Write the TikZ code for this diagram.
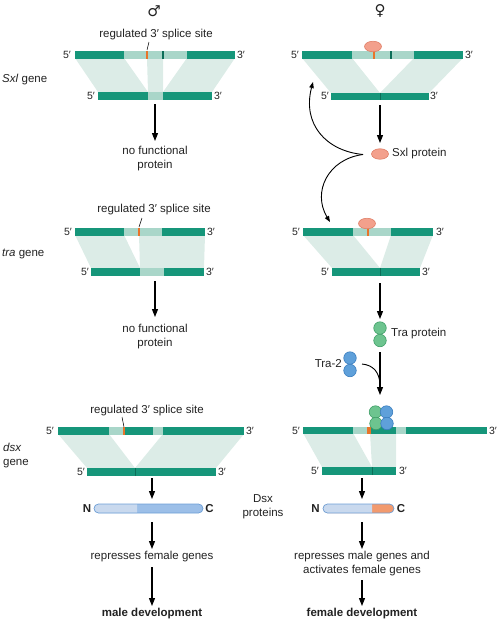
\documentclass[tikz,border=0pt]{standalone}
\usepackage{fontspec}
\setmainfont{Liberation Sans}
\newfontfamily\symfont{DejaVu Sans}
\usetikzlibrary{arrows.meta,shapes.geometric}
\definecolor{exonc}{HTML}{16967A}
\definecolor{exond}{HTML}{0C6E58}
\definecolor{lightc}{HTML}{A9D6C9}
\definecolor{shadec}{HTML}{DCECE7}
\definecolor{orangec}{HTML}{E8742A}
\definecolor{sxlf}{HTML}{F3A08C}
\definecolor{sxld}{HTML}{E07E66}
\definecolor{traf}{HTML}{6DC48F}
\definecolor{trad}{HTML}{3E9E66}
\definecolor{trbf}{HTML}{5FA0DA}
\definecolor{trbd}{HTML}{3A7DBE}
\definecolor{protl}{HTML}{C9D9EE}
\definecolor{protd}{HTML}{9CBFE8}
\definecolor{proto}{HTML}{6E9FD6}
\definecolor{proor}{HTML}{F29A6E}
\definecolor{txtc}{HTML}{222222}
\begin{document}
\begin{tikzpicture}[x=1pt,y=-1pt,font=\fontsize{11.5}{14}\selectfont,
  exon/.style={fill=exonc},
  lseg/.style={fill=lightc},
  shd/.style={fill=shadec},
  splice/.style={draw=orangec,line width=1.6pt},
  divd/.style={draw=exond,line width=1.2pt},
  divt/.style={draw=exond,line width=0.5pt},
  arr/.style={line width=1.1pt,-{Triangle[length=8pt,width=6pt]}},
  carr/.style={line width=0.9pt,-{Triangle[length=6pt,width=4.5pt]}},
  lead/.style={line width=0.5pt},
  pr/.style={inner sep=0pt,text=txtc,font=\fontsize{10.5}{12}\selectfont},
  txt/.style={inner sep=0pt,align=center,text=txtc},
  sxlprot/.style={ellipse,draw=sxld,fill=sxlf,line width=0.6pt,minimum width=17pt,minimum height=10.5pt,inner sep=0pt},
  trag/.style={circle,draw=trad,fill=traf,line width=0.6pt,minimum size=12.5pt,inner sep=0pt},
  trab/.style={circle,draw=trbd,fill=trbf,line width=0.6pt,minimum size=12.5pt,inner sep=0pt},
  protout/.style={draw=proto,line width=0.7pt,rounded corners=4.5pt}]
\useasboundingbox (0,0) rectangle (500,622);

% ---------- headers ----------
\node[txt,font=\symfont\fontsize{15}{16}\selectfont] (male) at (154,11) {♂};
\node[txt,font=\symfont\fontsize{15}{16}\selectfont] (female) at (380,11) {♀};

\node[txt,anchor=west] (gsxl) at (2,80) {\textit{Sxl} gene};
\node[txt,anchor=west] (gtra) at (2,254) {\textit{tra} gene};
\node[txt,anchor=west,align=left] (gdsx) at (3,456) {\textit{dsx}\\gene};

% ================= MALE Sxl =================
\fill[shd] (75,58) -- (124,58) -- (148,92) -- (98,92) -- cycle;
\fill[shd] (147,58) -- (163,58) -- (163,92) -- (148,92) -- cycle;
\fill[shd] (187,58) -- (235,58) -- (212,92) -- (163,92) -- cycle;
\fill[exon] (75,51) rectangle (235,58.5);
\fill[lseg] (124,51) rectangle (187,58.5);
\draw[splice] (147,51) -- (147,58.5);
\draw[divd] (163,51) -- (163,58.5);
\fill[exon] (98,92) rectangle (212,99.5);
\fill[lseg] (148,92) rectangle (163,99.5);
\node[pr] (ms5a) at (67,55) {5′};
\node[pr] (ms3a) at (241,55) {3′};
\node[pr] (ms5b) at (91,96) {5′};
\node[pr] (ms3b) at (218,96) {3′};
\node[txt] (mscall) at (156,35) {regulated 3′ splice site};
\coordinate (msl1) at (149,42);
\coordinate (msl2) at (147,50);
\draw[lead] (msl1) -- (msl2);
\coordinate (msa1) at (155,104);
\coordinate (msa2) at (155,141);
\draw[arr] (msa1) -- (msa2);
\node[txt] (msnf) at (155,159) {no functional\\protein};

% ================= FEMALE Sxl =================
\fill[shd] (302,58) -- (352,58) -- (380,93) -- (331,93) -- cycle;
\fill[shd] (414,58) -- (463,58) -- (429,93) -- (380,93) -- cycle;
\fill[exon] (302,51) rectangle (463,58.5);
\fill[lseg] (352,51) rectangle (414,58.5);
\draw[divd] (391,51) -- (391,58.5);
\draw[splice] (374,49) -- (374,58.5);
\node[sxlprot] (fsp1) at (373,46.5) {};
\fill[exon] (331,93) rectangle (429,99.5);
\draw[divt] (380,93) -- (380,99.5);
\node[pr] (fs5a) at (295,55) {5′};
\node[pr] (fs3a) at (469,55) {3′};
\node[pr] (fs5b) at (325,96) {5′};
\node[pr] (fs3b) at (434,96) {3′};
\coordinate (fsa1) at (380,105);
\coordinate (fsa2) at (380,143);
\draw[arr] (fsa1) -- (fsa2);
\node[sxlprot] (sxlp) at (380,154) {};
\node[txt,anchor=west] (sxlt) at (392,154) {Sxl protein};
\coordinate (fbk) at (363,154.5);
\coordinate (fup) at (313,82);
\coordinate (fdn) at (330,222);
\draw[carr] (fbk) .. controls (326,151) and (302,124) .. (fup);
\draw[carr] (fbk) .. controls (328,159) and (312,192) .. (fdn);

% ================= MALE tra =================
\fill[shd] (75,235) -- (124,235) -- (140,268) -- (91,268) -- cycle;
\fill[shd] (139,235) -- (205,235) -- (204,268) -- (140,268) -- cycle;
\fill[exon] (75,228) rectangle (205,235.5);
\fill[lseg] (124,228) rectangle (162,235.5);
\draw[splice] (139,228) -- (139,235.5);
\fill[exon] (91,268) rectangle (204,275.5);
\fill[lseg] (140,268) rectangle (164,275.5);
\node[pr] (mt5a) at (68,232) {5′};
\node[pr] (mt3a) at (211,232) {3′};
\node[pr] (mt5b) at (85,272) {5′};
\node[pr] (mt3b) at (210,272) {3′};
\node[txt] (mtcall) at (154,210) {regulated 3′ splice site};
\coordinate (mtl1) at (142,218);
\coordinate (mtl2) at (139,227);
\draw[lead] (mtl1) -- (mtl2);
\coordinate (mta1) at (155,281);
\coordinate (mta2) at (155,317);
\draw[arr] (mta1) -- (mta2);
\node[txt] (mtnf) at (155,337) {no functional\\protein};

% ================= FEMALE tra =================
\fill[shd] (303,235) -- (353,235) -- (380,268) -- (332,268) -- cycle;
\fill[shd] (391,235) -- (433,235) -- (420,268) -- (380,268) -- cycle;
\fill[exon] (303,228) rectangle (433,235.5);
\fill[lseg] (353,228) rectangle (391,235.5);
\draw[splice] (368,226) -- (368,235.5);
\node[sxlprot] (fsp2) at (367,223.5) {};
\fill[exon] (332,268) rectangle (420,275.5);
\draw[divt] (380,268) -- (380,275.5);
\node[pr] (ft5a) at (296,232) {5′};
\node[pr] (ft3a) at (440,232) {3′};
\node[pr] (ft5b) at (325,272) {5′};
\node[pr] (ft3b) at (426,272) {3′};
\coordinate (fta1) at (380,283);
\coordinate (fta2) at (380,319);
\draw[arr] (fta1) -- (fta2);
\node[trag] (tra1) at (380,328) {};
\node[trag] (tra2) at (380,340.5) {};
\node[txt,anchor=west] (trat) at (391,334) {Tra protein};
\coordinate (ftb1) at (380,352);
\coordinate (ftb2) at (380,395);
\draw[arr] (ftb1) -- (ftb2);
\node[trab] (tb1) at (350,358) {};
\node[trab] (tb2) at (350,370.5) {};
\node[txt,anchor=east] (tbt) at (342,364) {Tra-2};
\coordinate (tbc1) at (362,364);
\coordinate (tbc2) at (380,386);
\draw[line width=0.9pt] (tbc1) .. controls (373,365) and (380,372) .. (tbc2);

% ================= MALE dsx =================
\fill[shd] (58,434) -- (109,434) -- (135,468) -- (87,468) -- cycle;
\fill[shd] (163,434) -- (244,434) -- (216,468) -- (135,468) -- cycle;
\fill[exon] (58,427) rectangle (244,434.5);
\fill[lseg] (109,427) rectangle (125,434.5);
\fill[lseg] (153,427) rectangle (163,434.5);
\draw[splice] (124,427) -- (124,434.5);
\fill[exon] (87,468) rectangle (216,475.5);
\draw[divt] (135,468) -- (135,475.5);
\node[pr] (md5a) at (50,431) {5′};
\node[pr] (md3a) at (250,431) {3′};
\node[pr] (md5b) at (81,472) {5′};
\node[pr] (md3b) at (222,472) {3′};
\node[txt] (mdcall) at (147,411) {regulated 3′ splice site};
\coordinate (mdl1) at (122,417);
\coordinate (mdl2) at (124,427);
\draw[lead] (mdl1) -- (mdl2);
\coordinate (mda1) at (152,478);
\coordinate (mda2) at (152,499);
\draw[arr] (mda1) -- (mda2);
\fill[protd,rounded corners=4.5pt] (94,504) rectangle (203,513);
\begin{scope}
\clip (90,500) rectangle (137,517);
\fill[protl,rounded corners=4.5pt] (94,504) rectangle (203,513);
\end{scope}
\draw[protout] (94,504) rectangle (203,513);
\node[txt,font=\bfseries\fontsize{11.5}{14}\selectfont] (mN) at (87,508.5) {N};
\node[txt,font=\bfseries\fontsize{11.5}{14}\selectfont] (mC) at (209.5,508.5) {C};
\coordinate (mdb1) at (152,522);
\coordinate (mdb2) at (152,549);
\draw[arr] (mdb1) -- (mdb2);
\node[txt] (mrep) at (152,557) {represses female genes};
\coordinate (mdc1) at (152,567);
\coordinate (mdc2) at (152,606);
\draw[arr] (mdc1) -- (mdc2);
\node[txt,font=\bfseries\fontsize{11.5}{14}\selectfont] (mdev) at (152,614) {male development};

\node[txt] (dsxp) at (263,507) {Dsx\\proteins};

% ================= FEMALE dsx =================
\fill[shd] (303,433) -- (353,433) -- (372,467) -- (322,467) -- cycle;
\fill[shd] (370,433) -- (396,433) -- (396,467) -- (372,467) -- cycle;
\fill[exon] (303,427) rectangle (487,433.5);
\fill[lseg] (353,427) rectangle (367,433.5);
\fill[orangec] (367,427) rectangle (370.5,433.5);
\fill[lseg] (396,427) rectangle (406,433.5);
\fill[exon] (322,467) rectangle (396,474.5);
\draw[divt] (372,467) -- (372,474.5);
\node[trag] (cg1) at (375.5,412) {};
\node[trab] (cb1) at (386.5,412) {};
\node[trag] (cg2) at (376,423.5) {};
\node[trab] (cb2) at (387,423.5) {};
\node[pr] (fd5a) at (296,430.5) {5′};
\node[pr] (fd3a) at (493,430.5) {3′};
\node[pr] (fd5b) at (315,471) {5′};
\node[pr] (fd3b) at (403,471) {3′};
\coordinate (fda1) at (362,478);
\coordinate (fda2) at (362,499);
\draw[arr] (fda1) -- (fda2);
\fill[proor,rounded corners=4.5pt] (323,504) rectangle (394,513);
\begin{scope}
\clip (319,500) rectangle (372,517);
\fill[protl,rounded corners=4.5pt] (323,504) rectangle (394,513);
\end{scope}
\draw[protout] (323,504) rectangle (394,513);
\node[txt,font=\bfseries\fontsize{11.5}{14}\selectfont] (fN) at (315.5,508.5) {N};
\node[txt,font=\bfseries\fontsize{11.5}{14}\selectfont] (fC) at (401,508.5) {C};
\coordinate (fdb1) at (362,522);
\coordinate (fdb2) at (362,549);
\draw[arr] (fdb1) -- (fdb2);
\node[txt] (frep) at (362,564) {represses male genes and\\activates female genes};
\coordinate (fdc1) at (362,580);
\coordinate (fdc2) at (362,606);
\draw[arr] (fdc1) -- (fdc2);
\node[txt,font=\bfseries\fontsize{11.5}{14}\selectfont] (fdev) at (362,614) {female development};
\end{tikzpicture}
\end{document}
